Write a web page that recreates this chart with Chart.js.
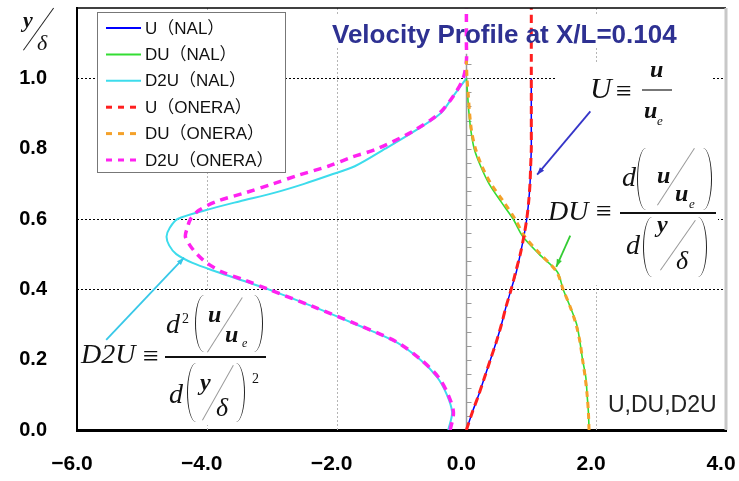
<!DOCTYPE html>
<html>
<head>
<meta charset="utf-8">
<script src="https://cdn.jsdelivr.net/npm/chart.js@4"></script>
<style>
  body { margin: 0; background: #fff; }
  #wrap { position: relative; width: 739px; height: 481px; }
  #notes { position: absolute; left: 0; top: 0; width: 739px; height: 481px; pointer-events: none; }
  #notes span { position: absolute; white-space: nowrap; line-height: 1; color: #111; }
  .serif { font-family: "Liberation Serif", "DejaVu Serif", serif; font-style: italic; }
  .sans { font-family: "Liberation Sans", Arial, sans-serif; }
</style>
</head>
<body>
<div id="wrap">
  <canvas id="chart" width="739" height="481"></canvas>
  <div id="notes"></div>
</div>
<script>
// ---- values ----
const yNal  = [0, 0.05, 0.1, 0.15, 0.2, 0.25, 0.3, 0.35, 0.4, 0.45, 0.5, 0.55, 0.6, 0.65, 0.7, 0.75, 0.8, 0.85, 0.9, 0.95, 1.0];
const uNal  = [0, 0.09, 0.19, 0.28, 0.37, 0.46, 0.54, 0.61, 0.69, 0.77, 0.83, 0.885, 0.93, 0.96, 0.98, 0.99, 1.0, 1.0, 1.0, 1.0, 1.0];
const duNal = [1.89, 1.88, 1.86, 1.84, 1.79, 1.75, 1.70, 1.60, 1.49, 1.40, 1.12, 0.87, 0.72, 0.53, 0.35, 0.22, 0.12, 0.07, 0.04, 0.02, 0.0];

const yD2uNal = [0, 0.05, 0.1, 0.15, 0.2, 0.25, 0.3, 0.35, 0.4, 0.425, 0.45, 0.475, 0.5, 0.525, 0.55, 0.575, 0.6, 0.625, 0.65, 0.675, 0.7, 0.725, 0.75, 0.8, 0.85, 0.9, 0.95, 1.0];
const d2uNal  = [-0.28, -0.22, -0.30, -0.45, -0.71, -1.08, -1.70, -2.35, -3.05, -3.45, -3.85, -4.22, -4.47, -4.58, -4.62, -4.57, -4.45, -4.02, -3.50, -2.95, -2.50, -2.10, -1.72, -1.25, -0.80, -0.40, -0.20, 0.0];

const yUOnera = [0, 0.05, 0.1, 0.15, 0.2, 0.25, 0.3, 0.35, 0.4, 0.45, 0.5, 0.55, 0.6, 0.65, 0.7, 0.75, 0.8, 0.85, 0.9, 0.95, 1.0, 1.05, 1.1, 1.15, 1.2];
const uOnera  = [0, 0.09, 0.19, 0.28, 0.37, 0.46, 0.54, 0.61, 0.69, 0.76, 0.83, 0.885, 0.93, 0.96, 0.98, 0.99, 1.0, 1.0, 1.0, 1.0, 1.0, 1.0, 1.0, 1.0, 1.0];

const yDuOnera = [0, 0.05, 0.1, 0.15, 0.2, 0.25, 0.3, 0.35, 0.4, 0.45, 0.5, 0.55, 0.6, 0.65, 0.7, 0.75, 0.8, 0.85, 0.9, 0.95, 1.0, 1.05];
const duOnera  = [1.89, 1.88, 1.86, 1.83, 1.79, 1.75, 1.69, 1.60, 1.49, 1.39, 1.14, 0.90, 0.75, 0.57, 0.38, 0.24, 0.14, 0.08, 0.05, 0.03, 0.01, 0.0];

const yD2uOnera = [0, 0.05, 0.1, 0.15, 0.2, 0.25, 0.3, 0.35, 0.4, 0.425, 0.45, 0.475, 0.5, 0.525, 0.55, 0.575, 0.6, 0.625, 0.65, 0.675, 0.7, 0.725, 0.75, 0.775, 0.8, 0.85, 0.9, 0.95, 1.0, 1.05, 1.1, 1.2];
const d2uOnera  = [-0.25, -0.20, -0.28, -0.43, -0.70, -1.07, -1.68, -2.35, -3.05, -3.40, -3.77, -4.00, -4.15, -4.26, -4.33, -4.30, -4.25, -4.12, -3.85, -3.40, -2.98, -2.58, -2.13, -1.78, -1.37, -0.82, -0.42, -0.20, -0.05, 0, 0, 0];

const seriesLabels = ["U（NAL）", "DU（NAL）", "D2U（NAL）", "U（ONERA）", "DU（ONERA）", "D2U（ONERA）"];
const yTickLabels = [0, 0.2, 0.4, 0.6, 0.8, 1.0];
const gridX = [-4, -2, 2];
const gridY = [0.4, 0.6, 1.0];

// arrows pointing at the curves, in data units
const arrows = [
  { from: [1.91, 0.906], to: [1.09, 0.726], color: "#3535c8" },
  { from: [1.60, 0.553], to: [1.385, 0.464], color: "#33cc33" },
  { from: [-5.55, 0.256], to: [-4.35, 0.49], color: "#38c8e8" }
];

// white patches behind the formulas / title (pixels)
const boxes = [
  [325, 14, 365, 34],
  [555, 62, 157, 73],
  [550, 135, 168, 100],
  [575, 235, 143, 50],
  [79, 291, 189, 134],
  [604, 390, 118, 30]
];

function pts(xs, ys) {
  return xs.map((v, i) => ({ x: v, y: ys[i] }));
}

// ---- decorations drawn with the scales ----
const decor = {
  id: "decor",
  beforeDatasetsDraw(chart) {
    const { ctx, chartArea: a, scales: { x, y } } = chart;
    ctx.save();
    ctx.lineWidth = 1;
    ctx.setLineDash([2, 2]);
    ctx.strokeStyle = "#b5b5b5";
    gridX.forEach(v => {
      const px = Math.round(x.getPixelForValue(v)) + 0.5;
      ctx.beginPath(); ctx.moveTo(px, a.top); ctx.lineTo(px, a.bottom); ctx.stroke();
    });
    ctx.strokeStyle = "#000";
    gridY.forEach(v => {
      const py = Math.round(y.getPixelForValue(v)) + 0.5;
      ctx.beginPath(); ctx.moveTo(a.left, py); ctx.lineTo(a.right, py); ctx.stroke();
    });
    ctx.setLineDash([]);

    // zero line with small ticks
    const x0 = Math.round(x.getPixelForValue(0)) + 0.5;
    ctx.strokeStyle = "#9a9a9a";
    ctx.lineWidth = 1.5;
    ctx.beginPath(); ctx.moveTo(x0, y.getPixelForValue(1.07)); ctx.lineTo(x0, a.bottom); ctx.stroke();
    ctx.lineWidth = 1;
    for (let t = 0.04; t < 1.07; t += 0.04) {
      const py = Math.round(y.getPixelForValue(t)) + 0.5;
      ctx.beginPath(); ctx.moveTo(x0, py); ctx.lineTo(x0 + 5, py); ctx.stroke();
    }

    ctx.fillStyle = "#fff";
    boxes.forEach(b => ctx.fillRect(b[0], b[1], b[2], b[3]));
    ctx.restore();
  },
  afterDatasetsDraw(chart) {
    const { ctx, scales: { x, y } } = chart;
    ctx.save();
    arrows.forEach(ar => {
      const x1 = x.getPixelForValue(ar.from[0]), y1 = y.getPixelForValue(ar.from[1]);
      const x2 = x.getPixelForValue(ar.to[0]), y2 = y.getPixelForValue(ar.to[1]);
      const ang = Math.atan2(y2 - y1, x2 - x1);
      ctx.strokeStyle = ar.color;
      ctx.fillStyle = ar.color;
      ctx.lineWidth = 1.8;
      ctx.beginPath(); ctx.moveTo(x1, y1); ctx.lineTo(x2, y2); ctx.stroke();
      ctx.beginPath();
      ctx.moveTo(x2, y2);
      ctx.lineTo(x2 - 8 * Math.cos(ang - 0.35), y2 - 8 * Math.sin(ang - 0.35));
      ctx.lineTo(x2 - 8 * Math.cos(ang + 0.35), y2 - 8 * Math.sin(ang + 0.35));
      ctx.closePath(); ctx.fill();
    });
    ctx.restore();
  },
  afterDraw(chart) {
    const { ctx, chartArea: a } = chart;
    ctx.save();
    // frame: top and right
    ctx.strokeStyle = "#000"; ctx.lineWidth = 1.5;
    ctx.beginPath(); ctx.moveTo(a.left, a.top); ctx.lineTo(a.right, a.top); ctx.stroke();
    ctx.strokeStyle = "#c8c8c8"; ctx.lineWidth = 3;
    ctx.beginPath(); ctx.moveTo(a.right, a.top); ctx.lineTo(a.right, a.bottom); ctx.stroke();

    // legend inside the plot
    const lx = 97, ly = 12, lw = 188, lh = 160;
    ctx.fillStyle = "#fff";
    ctx.fillRect(lx, ly, lw, lh);
    ctx.strokeStyle = "#777"; ctx.lineWidth = 1;
    ctx.strokeRect(lx + 0.5, ly + 0.5, lw, lh);
    ctx.font = '17px "Liberation Sans", "Noto Sans CJK JP", sans-serif';
    ctx.textBaseline = "middle";
    chart.data.datasets.forEach((ds, i) => {
      const cy = 28 + i * 26.4;
      ctx.strokeStyle = ds.borderColor;
      ctx.lineWidth = ds.borderDash ? 3 : 2;
      ctx.setLineDash(ds.borderDash ? [6, 6] : []);
      ctx.beginPath(); ctx.moveTo(106, cy); ctx.lineTo(141, cy); ctx.stroke();
      ctx.setLineDash([]);
      ctx.fillStyle = "#111";
      ctx.fillText(ds.label, 145, cy + 1);
    });
    ctx.restore();
  }
};

const common = { showLine: true, pointRadius: 0, tension: 0.3, fill: false };

new Chart(document.getElementById("chart"), {
  type: "scatter",
  data: {
    datasets: [
      { ...common, label: seriesLabels[0], data: pts(uNal, yNal), borderColor: "#0000ff", borderWidth: 1.5, order: 1 },
      { ...common, label: seriesLabels[1], data: pts(duNal, yNal), borderColor: "#33dd33", borderWidth: 1.6, order: 1 },
      { ...common, label: seriesLabels[2], data: pts(d2uNal, yD2uNal), borderColor: "#3ddcec", borderWidth: 2, order: 1 },
      { ...common, label: seriesLabels[3], data: pts(uOnera, yUOnera), borderColor: "#ff1f1f", borderWidth: 3, borderDash: [8, 5], order: 0 },
      { ...common, label: seriesLabels[4], data: pts(duOnera, yDuOnera), borderColor: "#f4a12a", borderWidth: 3, borderDash: [6, 5], order: 0 },
      { ...common, label: seriesLabels[5], data: pts(d2uOnera, yD2uOnera), borderColor: "#ff22f0", borderWidth: 3.5, borderDash: [8, 6], order: 0 }
    ]
  },
  options: {
    responsive: false,
    animation: false,
    layout: { padding: { left: 0, right: 13, top: 8, bottom: 0 } },
    plugins: { legend: { display: false }, tooltip: { enabled: false } },
    scales: {
      x: {
        type: "linear",
        min: -6, max: 4,
        grid: { display: false, drawTicks: false },
        border: { display: true, color: "#000", width: 3 },
        ticks: {
          stepSize: 2,
          padding: 22,
          labelOffset: -5,
          color: "#000",
          font: { family: "Liberation Sans", size: 21, weight: "bold" },
          callback: v => (v < 0 ? "\u2212" : "") + Math.abs(v).toFixed(1)
        },
        afterFit(scale) { scale.height = 51; scale.paddingLeft = 0; scale.paddingRight = 0; }
      },
      y: {
        type: "linear",
        min: 0, max: 1.2,
        grid: { display: false, drawTicks: false },
        border: { display: true, color: "#000", width: 2 },
        ticks: {
          stepSize: 0.2,
          padding: 30,
          color: "#000",
          font: { family: "Liberation Sans", size: 20, weight: "bold" },
          callback: v => yTickLabels.some(t => Math.abs(t - v) < 1e-6) ? v.toFixed(1) : ""
        },
        afterFit(scale) { scale.width = 77; scale.paddingTop = 0; scale.paddingBottom = 0; }
      }
    }
  },
  plugins: [decor]
});

// ---- text notes: title, formulas, axis symbol ----
const notes = document.getElementById("notes");
function txt(s, left, base, size, cls, extra) {
  const e = document.createElement("span");
  e.className = cls;
  e.textContent = s;
  const k = cls === "sans" ? 0.8465 : 0.8375;
  e.style.left = left + "px";
  e.style.top = (base - k * size) + "px";
  e.style.fontSize = size + "px";
  if (extra) Object.assign(e.style, extra);
  notes.appendChild(e);
}
function bar(left, top, w, color) {
  const d = document.createElement("div");
  d.style.cssText = `position:absolute;left:${left}px;top:${top}px;width:${w}px;height:1.5px;background:${color || "#111"}`;
  notes.appendChild(d);
}
function slash(x1, y1, x2, y2, color) {
  const d = document.createElement("div");
  const len = Math.hypot(x2 - x1, y2 - y1), ang = Math.atan2(y2 - y1, x2 - x1);
  d.style.cssText = `position:absolute;left:${x1}px;top:${y1}px;width:${len}px;height:1.3px;background:${color || "#999"};transform-origin:0 0;transform:rotate(${ang}rad)`;
  notes.appendChild(d);
}
function paren(left, top, bottom, right) {
  const d = document.createElement("div");
  const side = right ? "right" : "left";
  const rad = right ? "0 100% 100% 0 / 0 50% 50% 0" : "100% 0 0 100% / 50% 0 0 50%";
  d.style.cssText = `position:absolute;left:${left}px;top:${top}px;width:9px;height:${bottom - top}px;box-sizing:border-box;border-${side}:1.6px solid #222;border-radius:${rad}`;
  notes.appendChild(d);
}
const bi = { fontWeight: "bold" };

// title and corner label
txt("Velocity Profile at X/L=0.104", 332, 43, 26, "sans", { fontWeight: "bold", color: "#2e3192" });
txt("U,DU,D2U", 608, 412, 23, "sans", { color: "#222" });

// y/δ
txt("y", 23, 27, 22, "serif", bi);
slash(23, 50, 53, 8, "#222");
txt("δ", 37, 50, 22, "serif");

// U ≡ u / u_e
txt("U", 590, 98, 30, "serif");
txt("≡", 616, 100, 28, "serif", { fontStyle: "normal" });
txt("u", 650, 77, 24, "serif", bi);
bar(642, 89, 30, "#777");
txt("u", 644, 118, 24, "serif", bi);
txt("e", 657, 125, 13, "serif");

// DU ≡ d(u/u_e) / d(y/δ)
txt("DU", 548, 220, 28, "serif");
txt("≡", 596, 220, 28, "serif", { fontStyle: "normal" });
bar(620, 212, 96);
txt("d", 622, 186, 28, "serif");
paren(637, 148, 210, false);
txt("u", 657, 183, 24, "serif", bi);
slash(657, 205, 694, 148);
txt("u", 675, 201, 24, "serif", bi);
txt("e", 689, 208, 13, "serif");
paren(703, 148, 210, true);
txt("d", 626, 254, 28, "serif");
paren(643, 217, 277, false);
txt("y", 657, 232, 24, "serif", bi);
slash(660, 270, 695, 220);
txt("δ", 676, 270, 26, "serif");
paren(698, 217, 277, true);

// D2U ≡ d²(u/u_e) / d(y/δ)²
txt("D2U", 81, 363, 28, "serif");
txt("≡", 143, 365, 28, "serif", { fontStyle: "normal" });
bar(165, 356, 101);
txt("d", 166, 333, 28, "serif");
txt("2", 182, 324, 14, "serif", { fontStyle: "normal" });
paren(195, 295, 352, false);
txt("u", 208, 322, 24, "serif", bi);
slash(207, 352, 242, 297);
txt("u", 225, 342, 24, "serif", bi);
txt("e", 242, 347, 12, "serif");
paren(254, 295, 352, true);
txt("d", 169, 403, 28, "serif");
paren(187, 363, 422, false);
txt("y", 200, 390, 24, "serif", bi);
slash(202, 420, 233, 365);
txt("δ", 216, 417, 26, "serif");
paren(236, 363, 422, true);
txt("2", 252, 384, 14, "serif", { fontStyle: "normal" });
</script>
</body>
</html>
